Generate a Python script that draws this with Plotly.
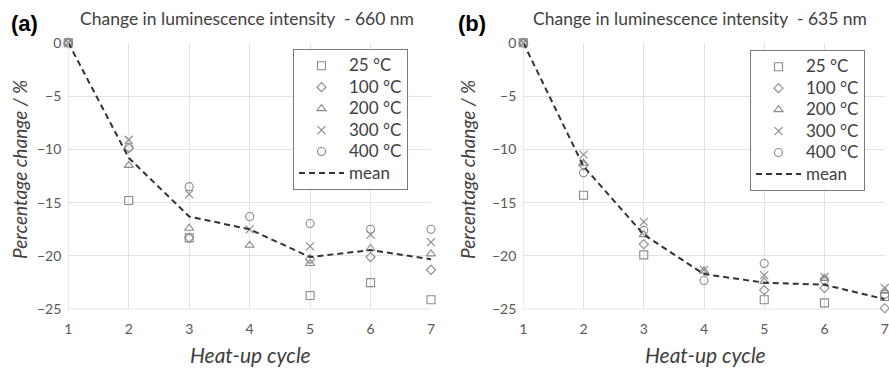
import plotly.graph_objects as go

cycles = [1, 2, 3, 4, 5, 6, 7]
series_names = ["25 °C", "100 °C", "200 °C", "300 °C", "400 °C"]

# Panel (a) 660 nm
a_25 = [0, -14.8, -18.3, None, -23.7, -22.5, -24.1]
a_100 = [0, -9.9, -18.3, None, -20.3, -20.1, -21.3]
a_200 = [0, -11.5, -17.4, -19.0, -20.7, -19.3, -19.8]
a_300 = [0, -9.1, -14.2, -17.5, -19.1, -18.0, -18.7]
a_400 = [0, -9.8, -13.5, -16.3, -16.95, -17.5, -17.5]
a_mean = [0, -10.8, -16.3, -17.5, -20.1, -19.45, -20.3]

# Panel (b) 635 nm
b_25 = [0, -14.3, -19.9, None, -24.1, -24.4, -23.8]
b_100 = [0, -11.5, -18.9, None, -23.2, -23.0, -24.9]
b_200 = [0, -11.3, -18.0, -21.4, -22.4, -22.1, -23.3]
b_300 = [0, -10.5, -16.8, -21.3, -21.8, -21.95, -23.0]
b_400 = [0, -12.2, -17.6, -22.3, -20.7, -22.25, -23.6]
b_mean = [0, -11.6, -18.0, -21.7, -22.5, -22.7, -24.05]

y_ticks = [0, -5, -10, -15, -20, -25]
titles = ["Change in luminescence intensity  - 660 nm",
          "Change in luminescence intensity  - 635 nm"]
panel_labels = ["(a)", "(b)"]

symbols = ["square-open", "diamond-open", "triangle-up-open", "x-thin-open", "circle-open"]
sizes = [8, 7, 8, 8, 8]
GRAY = "#8a8a8a"
FONT = "Lato"


def leg_name(s):
    return "<span style='font-size:17px'>" + s + "</span>"


fig = go.Figure()

panels = [
    ([a_25, a_100, a_200, a_300, a_400], a_mean, "x", "y", "legend"),
    ([b_25, b_100, b_200, b_300, b_400], b_mean, "x2", "y2", "legend2"),
]
for vals, mean, xa, ya, lg in panels:
    for name, v, sym, sz in zip(series_names, vals, symbols, sizes):
        fig.add_trace(go.Scatter(
            x=cycles, y=v, mode="markers", name=leg_name(name), xaxis=xa, yaxis=ya,
            legend=lg, cliponaxis=False,
            marker=dict(symbol=sym, size=sz, color=GRAY,
                        line=dict(color=GRAY, width=1.1))))
    fig.add_trace(go.Scatter(
        x=cycles, y=mean, mode="lines", name=leg_name("mean"), xaxis=xa, yaxis=ya,
        legend=lg, cliponaxis=False,
        line=dict(color="#333333", width=2, dash="6px,4px")))

axis_common = dict(
    showgrid=True, gridcolor="#e3e3e3", gridwidth=1,
    zeroline=False, showline=False, automargin=False,
    tickfont=dict(family=FONT, size=14, color="#595959"),
    ticks="", fixedrange=True,
)
xdom = [[68.3 / 889, 431 / 889], [523.3 / 889, 884.7 / 889]]
ydom = [1 - 309.3 / 368, 1 - 42.7 / 368]

layout = dict(
    template="none",
    width=889, height=368, autosize=False,
    margin=dict(l=0, r=0, t=0, b=0, pad=0, autoexpand=False),
    paper_bgcolor="white", plot_bgcolor="white",
    showlegend=True,
    font=dict(family=FONT, color="#404040"),
)
for i, (xk, yk, xa, ya) in enumerate([("xaxis", "yaxis", "x", "y"),
                                      ("xaxis2", "yaxis2", "x2", "y2")]):
    layout[xk] = dict(axis_common, domain=xdom[i], range=[1, 7],
                      tickvals=cycles, anchor=ya, ticklabelstandoff=10)
    layout[yk] = dict(axis_common, domain=ydom, range=[-25, 0],
                      tickvals=y_ticks, anchor=xa, ticklabelstandoff=6)

leg_common = dict(
    bgcolor="white", bordercolor="#7a7a7a", borderwidth=1,
    font=dict(family=FONT, size=14.2, color="#404040"),
    xanchor="left", yanchor="top", tracegroupgap=0, itemsizing="trace",
    itemwidth=45,
)
layout["legend"] = dict(leg_common, x=293 / 889, y=1 - 49 / 368)
layout["legend2"] = dict(leg_common, x=750 / 889, y=1 - 50 / 368)

fig.update_layout(**layout)

# axis-baseline lines drawn as shapes in axis coordinates
for xa, ya in [("x", "y"), ("x2", "y2")]:
    fig.add_shape(type="line", xref=xa, yref=ya, x0=1, x1=7, y0=-25, y1=-25,
                  line=dict(color="#d0d0d0", width=1.2))
    fig.add_shape(type="line", xref=xa, yref=ya, x0=1, x1=1, y0=-25, y1=0,
                  line=dict(color="#d9d9d9", width=1))

ann = []
title_x = [247, 700]
label_x = [24, 472]
ytitle_x = [20, 468]
xtitle_x = [250, 705]
for i in range(2):
    ann.append(dict(text=titles[i], x=title_x[i] / 889, y=1 - 19 / 368,
                    xref="paper", yref="paper", showarrow=False,
                    xanchor="center", yanchor="middle",
                    font=dict(family=FONT, size=17.5, color="#404040")))
    ann.append(dict(text="<b>" + panel_labels[i] + "</b>", x=label_x[i] / 889,
                    y=1 - 24 / 368, xref="paper", yref="paper", showarrow=False,
                    xanchor="center", yanchor="middle",
                    font=dict(family="Liberation Sans", size=22, color="black")))
    ann.append(dict(text="<i>Percentage change / %</i>", x=ytitle_x[i] / 889,
                    y=1 - 170 / 368, xref="paper", yref="paper", showarrow=False,
                    xanchor="center", yanchor="middle", textangle=-90,
                    font=dict(family=FONT, size=19, color="#404040")))
    ann.append(dict(text="<i>Heat-up cycle</i>", x=xtitle_x[i] / 889,
                    y=1 - 354 / 368, xref="paper", yref="paper", showarrow=False,
                    xanchor="center", yanchor="middle",
                    font=dict(family=FONT, size=21, color="#404040")))
fig.update_layout(annotations=ann)

fig.write_html("out.html")
